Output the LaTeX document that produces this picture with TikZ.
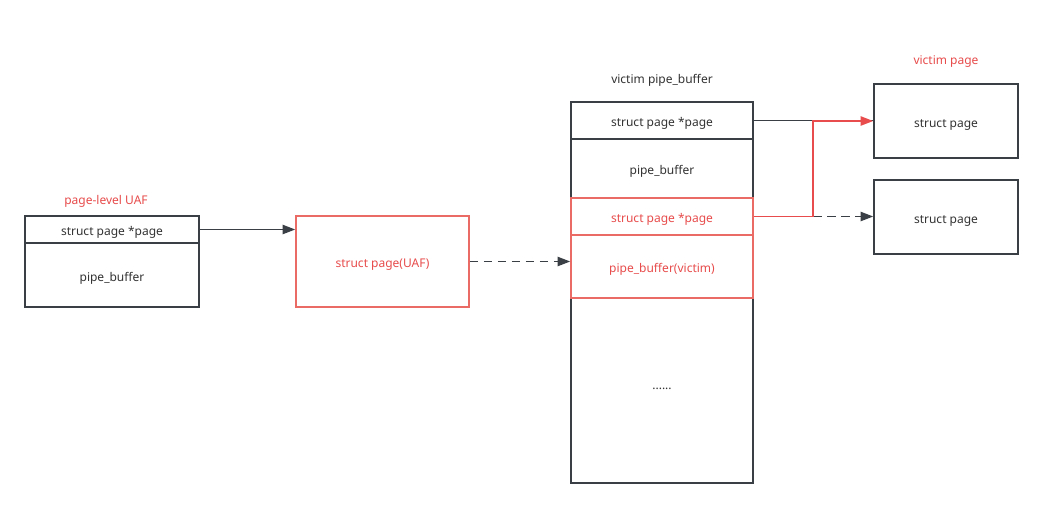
\documentclass[tikz,border=0pt]{standalone}
\usepackage{fontspec}
\setmainfont{Noto Sans}
\usetikzlibrary{arrows.meta}
\definecolor{dk}{HTML}{3A3F45}
\definecolor{rd}{HTML}{EA6B66}
\definecolor{rdt}{HTML}{E84C4C}
\definecolor{txt}{HTML}{333333}
\tikzset{
  cell/.style={draw=dk, line width=1.2pt, inner sep=0pt, font=\fontsize{9pt}{11pt}\selectfont, text=txt, text height=9pt, text depth=0pt},
  redcell/.style={draw=rd, line width=1.2pt, inner sep=0pt, font=\fontsize{9pt}{11pt}\selectfont, text=rdt, text height=9pt, text depth=0pt},
  lbl/.style={font=\fontsize{9pt}{11pt}\selectfont, inner sep=0pt, text height=9pt, text depth=0pt},
  tip/.style={-{Triangle[length=9.5pt,width=7pt]}},
  conn/.style={line width=1.2pt, draw=dk, tip},
  dashconn/.style={conn, dash pattern=on 6.5pt off 4pt},
}
\begin{document}
\begin{tikzpicture}[x=0.75pt,y=-0.75pt]
\useasboundingbox[fill=white] (0,0) rectangle (1043,508);
% left box
\node[cell, minimum width=130.5pt, minimum height=20.25pt] (L1) at (112,229.5) {struct page *page};
\node[cell, minimum width=130.5pt, minimum height=48pt] (L2) at (112,275) {pipe\_buffer};
\node[lbl, text=rdt] (lt) at (106,198) {page-level UAF};
% UAF box
\node[redcell, minimum width=129.75pt, minimum height=68.25pt] (U) at (382.5,261.5) {struct page(UAF)};
% victim pipe_buffer
\node[lbl, text=txt] (vt) at (662,77) {victim pipe\_buffer};
\node[cell, minimum width=136.5pt, minimum height=27.75pt] (V1) at (662,120.5) {struct page *page};
\node[cell, minimum width=136.5pt, minimum height=44.25pt] (V2) at (662,168.5) {pipe\_buffer};
\node[cell, minimum width=136.5pt, minimum height=138.75pt] (V5) at (662,390.5) {};
\node[lbl, text=txt] (dots) at (662,383) {......};
\node[redcell, minimum width=136.5pt, minimum height=27.75pt] (V3) at (662,216.5) {struct page *page};
\node[redcell, minimum width=136.5pt, minimum height=47.25pt] (V4) at (662,266.5) {pipe\_buffer(victim)};
% victim pages
\node[lbl, text=rdt] (pt) at (946,58) {victim page};
\node[cell, minimum width=108pt, minimum height=55.5pt] (P1) at (946,121) {struct page};
\node[cell, minimum width=108pt, minimum height=55.5pt] (P2) at (946,217) {struct page};
% connectors
\draw[conn] (L1.east) -- (L1.east -| U.west);
\draw[dashconn] (U.east) -- (U.east -| V4.west);
\coordinate (bend) at (813,216.5);
\draw[line width=1.2pt, draw=dk] (V1.east) -- (V1.east -| P1.west);
\draw[dashconn] (bend) -- (bend -| P2.west);
\draw[line width=1.2pt, draw=rdt, -{Triangle[length=9.5pt,width=7pt,fill=rdt]}] (V3.east) -- (bend) |- (P1.west);
\end{tikzpicture}
\end{document}
